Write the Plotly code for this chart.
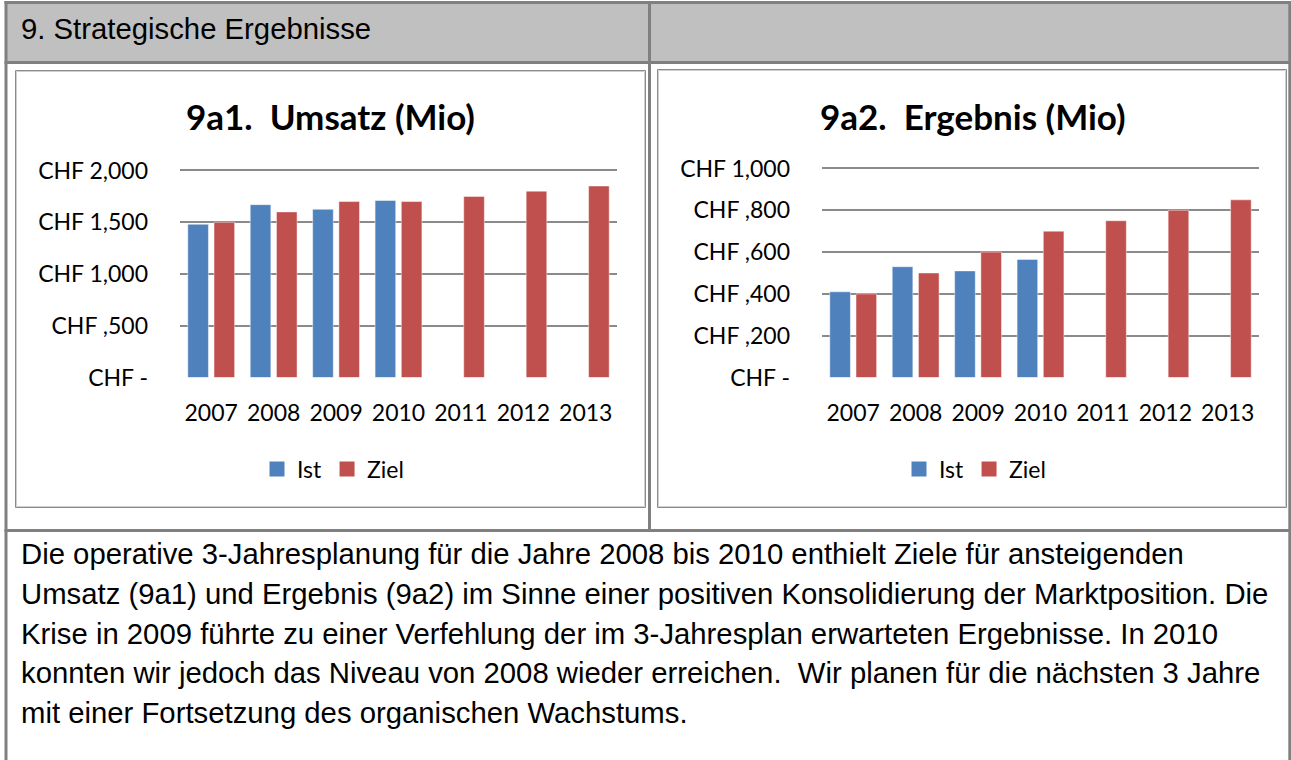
import plotly.graph_objects as go

# ---------------- data ----------------
years = ["2007", "2008", "2009", "2010", "2011", "2012", "2013"]
umsatz_ist = [1480, 1670, 1625, 1710, None, None, None]
umsatz_ziel = [1500, 1600, 1700, 1700, 1750, 1800, 1850]
ergebnis_ist = [410, 530, 510, 565, None, None, None]
ergebnis_ziel = [400, 500, 600, 700, 750, 800, 850]

umsatz_tickvals = [0, 500, 1000, 1500, 2000]
umsatz_ticktext = ["CHF -", "CHF ,500", "CHF 1,000", "CHF 1,500", "CHF 2,000"]
ergebnis_tickvals = [0, 200, 400, 600, 800, 1000]
ergebnis_ticktext = ["CHF -", "CHF ,200", "CHF ,400", "CHF ,600", "CHF ,800", "CHF 1,000"]

series_names = ["Ist", "Ziel"]
title_1 = "9a1.\u00a0 Umsatz (Mio)"
title_2 = "9a2.\u00a0 Ergebnis (Mio)"
header_text = "9. Strategische Ergebnisse"
paragraph_lines = [
    "Die operative 3-Jahresplanung für die Jahre 2008 bis 2010 enthielt Ziele für ansteigenden",
    "Umsatz (9a1) und Ergebnis (9a2) im Sinne einer positiven Konsolidierung der Marktposition. Die",
    "Krise in 2009 führte zu einer Verfehlung der im 3-Jahresplan erwarteten Ergebnisse. In 2010",
    "konnten wir jedoch das Niveau von 2008 wieder erreichen.\u00a0 Wir planen für die nächsten 3 Jahre",
    "mit einer Fortsetzung des organischen Wachstums.",
]

# ---------------- layout helpers ----------------
W, H = 1291, 760


def px(x):
    return x / W


def py(y):
    return 1 - y / H


BLUE = "#4F81BD"
RED = "#C0504D"
CHART_FONT = "Lato"
TEXT_FONT = "Liberation Sans, Arial"
GRID = "#8a8a8a"
EDGE = "rgba(255,255,255,0.45)"

fig = go.Figure()
for xs, ys, nm, col, xa, ya in [
    (years, umsatz_ist, series_names[0], BLUE, "x", "y"),
    (years, umsatz_ziel, series_names[1], RED, "x", "y"),
    (years, ergebnis_ist, series_names[0], BLUE, "x2", "y2"),
    (years, ergebnis_ziel, series_names[1], RED, "x2", "y2"),
]:
    fig.add_trace(go.Bar(x=xs, y=ys, name=nm, marker_color=col,
                         marker_line=dict(color=EDGE, width=1),
                         xaxis=xa, yaxis=ya, showlegend=False, hoverinfo="x+y+name"))

# legend entries (square keys like the original)
for nm, col, xa, ya, lg in [
    (series_names[0], BLUE, "x", "y", "legend"),
    (series_names[1], RED, "x", "y", "legend"),
    (series_names[0], BLUE, "x2", "y2", "legend2"),
    (series_names[1], RED, "x2", "y2", "legend2"),
]:
    fig.add_trace(go.Scatter(x=[None], y=[None], mode="markers", name=nm,
                             marker=dict(symbol="square", size=15, color=col),
                             xaxis=xa, yaxis=ya, legend=lg, showlegend=True,
                             hoverinfo="skip"))

tick_font = dict(family=CHART_FONT, size=23, color="#000000")

xaxis_common = dict(type="category", categoryarray=years, categoryorder="array",
                    showgrid=False, showline=False, zeroline=False,
                    ticks="", tickfont=tick_font, ticklabelstandoff=19, fixedrange=True,
                    automargin=False)
yaxis_common = dict(showgrid=True, gridcolor=GRID, gridwidth=2, showline=False, zeroline=False,
                    ticks="", tickfont=tick_font, ticklabelstandoff=31, fixedrange=True,
                    automargin=False)

# plot-area pixel frames
y_zero = 377.5
top_1, max_1 = 170.5, 2000
top_2, max_2 = 168.5, 1000
PAD = 1.006  # small headroom so the top gridline is drawn
dom_top_1 = y_zero - PAD * (y_zero - top_1)
dom_top_2 = y_zero - PAD * (y_zero - top_2)

legend_common = dict(orientation="h", yanchor="middle", xanchor="center",
                     font=dict(family=CHART_FONT, size=23, color="#000000"), itemwidth=30,
                     bgcolor="rgba(0,0,0,0)", borderwidth=0, itemclick=False,
                     itemdoubleclick=False)

fig.update_layout(
    template="none",
    width=W, height=H,
    margin=dict(l=0, r=0, t=0, b=0, autoexpand=False),
    paper_bgcolor="white", plot_bgcolor="rgba(0,0,0,0)",
    barmode="group", bargap=0.16, bargroupgap=0.214,
    hovermode=False,
    xaxis=dict(domain=[px(180), px(617)], anchor="y", **xaxis_common),
    yaxis=dict(domain=[py(y_zero), py(dom_top_1)], anchor="x", range=[0, max_1 * PAD],
               tickvals=umsatz_tickvals, ticktext=umsatz_ticktext, **yaxis_common),
    xaxis2=dict(domain=[px(822), px(1259)], anchor="y2", **xaxis_common),
    yaxis2=dict(domain=[py(y_zero), py(dom_top_2)], anchor="x2", range=[0, max_2 * PAD],
                tickvals=ergebnis_tickvals, ticktext=ergebnis_ticktext, **yaxis_common),
    legend=dict(x=px(333), y=py(469), **legend_common),
    legend2=dict(x=px(975), y=py(469), **legend_common),
    showlegend=True,
)

# ---------------- table structure ----------------
BORDER = "#808080"
shapes = [
    dict(type="rect", xref="paper", yref="paper", x0=px(7), x1=px(1289), y0=py(61), y1=py(4),
         fillcolor="#c0c0c0", line=dict(width=0), layer="below"),
    dict(type="line", xref="paper", yref="paper", x0=px(6), x1=px(6), y0=py(1), y1=py(770),
         line=dict(color=BORDER, width=3)),
    dict(type="line", xref="paper", yref="paper", x0=px(1289.8), x1=px(1289.8), y0=py(1), y1=py(770),
         line=dict(color=BORDER, width=3)),
    dict(type="line", xref="paper", yref="paper", x0=px(4.5), x1=px(1291.5), y0=py(2.5), y1=py(2.5),
         line=dict(color=BORDER, width=3)),
    dict(type="line", xref="paper", yref="paper", x0=px(4.5), x1=px(1291.5), y0=py(62.5), y1=py(62.5),
         line=dict(color=BORDER, width=3)),
    dict(type="line", xref="paper", yref="paper", x0=px(649.5), x1=px(649.5), y0=py(2.5), y1=py(530.5),
         line=dict(color=BORDER, width=3)),
    dict(type="line", xref="paper", yref="paper", x0=px(4.5), x1=px(1291.5), y0=py(530.5), y1=py(530.5),
         line=dict(color=BORDER, width=3)),
]
for (x0, x1, y0, y1) in [(15.5, 645.5, 70.5, 507.5), (657.5, 1286.5, 69.5, 507.5)]:
    shapes.append(dict(type="rect", xref="paper", yref="paper", x0=px(x0), x1=px(x1),
                       y0=py(y1), y1=py(y0), line=dict(color="#8c8c8c", width=1),
                       fillcolor="rgba(0,0,0,0)"))
    shapes.append(dict(type="rect", xref="paper", yref="paper", x0=px(x0 + 1), x1=px(x1 - 1),
                       y0=py(y1 - 1), y1=py(y0 + 1), line=dict(color="#cfcfcf", width=1),
                       fillcolor="rgba(0,0,0,0)"))
fig.update_layout(shapes=shapes)

# ---------------- texts ----------------
annotations = [
    dict(text=header_text, xref="paper", yref="paper", x=px(19), y=py(29), xanchor="left",
         yanchor="middle", showarrow=False,
         font=dict(family=TEXT_FONT, size=29.3, color="#000000")),
    dict(text="<b>%s</b>" % title_1, xref="paper", yref="paper", x=px(330.7), y=py(116),
         xanchor="center", yanchor="middle", showarrow=False,
         font=dict(family=CHART_FONT, size=35, color="#000000")),
    dict(text="<b>%s</b>" % title_2, xref="paper", yref="paper", x=px(972.8), y=py(116),
         xanchor="center", yanchor="middle", showarrow=False,
         font=dict(family=CHART_FONT, size=35, color="#000000")),
]
line_y = [553.5, 593, 633, 672.5, 712]
for txt, yy in zip(paragraph_lines, line_y):
    annotations.append(dict(text=txt, xref="paper", yref="paper", x=px(19), y=py(yy),
                            xanchor="left", yanchor="middle", showarrow=False,
                            font=dict(family=TEXT_FONT, size=29.3, color="#000000")))
fig.update_layout(annotations=annotations)

# place the figure flush with the window's top-left corner, no toolbar
fig.write_html("out.html", config={"displayModeBar": False},
               post_script="document.body.style.margin = '0px';")
